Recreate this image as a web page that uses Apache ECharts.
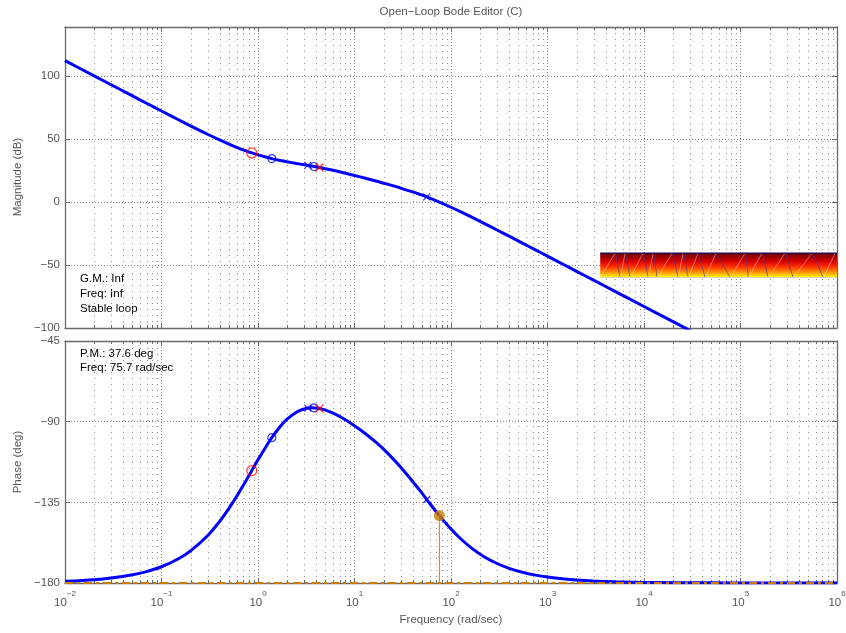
<!DOCTYPE html>
<html>
<head>
<meta charset="utf-8">
<script src="https://cdn.jsdelivr.net/npm/echarts@6/dist/echarts.min.js"></script>
<style>
html, body { margin: 0; padding: 0; background: #ffffff; }
#chart { width: 846px; height: 633px; }
</style>
</head>
<body>
<div id="chart"></div>
<script>
// Open-loop response samples: frequency (rad/sec), magnitude (dB), phase (deg)
const freq = [0.01, 0.02, 0.03, 0.05, 0.07, 0.1, 0.15, 0.2, 0.3, 0.4, 0.5, 0.6, 0.75, 0.862, 1, 1.2, 1.39, 1.7, 2, 2.5,
  3, 3.6, 4.33, 5, 6, 7.5, 10, 13, 17, 22, 30, 40, 48, 56, 75.7, 100, 130, 170, 220, 300, 400,
  550, 750, 1000, 1500, 2000, 3000, 5000, 10000, 20000, 50000, 100000, 1000000];
const magDb = [112.25, 100.21, 93.18, 84.31, 78.49, 72.33, 65.38, 60.51, 53.83, 49.31, 46.00, 43.46, 40.62, 39.01, 37.44, 35.72, 34.50, 33.02, 31.97, 30.64,
  29.61, 28.56, 27.46, 26.5, 25.2, 23.5, 21.1, 18.9, 16.5, 14.2, 11.1, 8.1, 6.0, 4.12, 0.00, -4.12, -8.23, -12.60, -16.90, -22.17, -27.10,
  -32.59, -37.96, -42.95, -49.98, -54.98, -62.02, -70.89, -82.93, -94.97, -110.89, -122.93, -162.93];
const phaseDeg = [-179.09, -178.18, -177.27, -175.45, -173.64, -170.94, -166.46, -162.08, -153.63, -145.70, -138.39, -131.73, -122.96, -117.31, -111.30, -104.23, -98.95, -92.69, -88.63, -84.70,
  -82.90, -82.28, -82.68, -83.57, -85.27, -87.99, -92.25, -96.72, -101.89, -107.52, -115.26, -123.34, -128.6, -133.42, -142.4, -149.87, -156.01, -161.25, -165.31, -169.13, -171.81,
  -174.02, -175.61, -176.71, -177.80, -178.35, -178.90, -179.34, -179.67, -179.84, -179.93, -179.97, -180.00];

// Compensator (red) and plant (blue) zeros / poles
const compZeroFreq = [0.862];
const compZeroMag = [39.01];
const compZeroPhase = [-117.31];
const compPoleFreq = [4.33];
const compPoleMag = [27.46];
const compPolePhase = [-82.68];
const plantZeroFreq = [1.39, 3.81];
const plantZeroMag = [34.50, 28.22];
const plantZeroPhase = [-98.95, -82.30];
const plantPoleFreq = [3.28, 56];
const plantPoleMag = [29.10, 4.12];
const plantPolePhase = [-82.45, -133.42];

// Stability margins
const pmFreq = 75.7;
const pmDeg = 37.6;

// Axis ticks
const freqTicks = [1e-2, 1e-1, 1e0, 1e1, 1e2, 1e3, 1e4, 1e5, 1e6];
const minorSteps = [2, 3, 4, 5, 6, 7, 8, 9];
const magTicks = [-100, -50, 0, 50, 100];
const magTop = 139;
const phaseTicks = [-180, -135, -90, -45];

// Colour band in the magnitude pane and its sawtooth trace
const bandFreq = [3517, 1e6];
const bandDb = [-40.2, -60.3];
const sawFreq = [3517, 5035, 5673, 6393, 7200, 9817, 11070, 12470, 13720, 19630, 22650, 25520, 28760, 36480,
  43150, 56100, 78300, 112100, 120500, 168200, 194100, 291200, 352400, 554600, 721000, 961000];

const FONT = 'Liberation Sans, Arial, Helvetica, sans-serif';
const GRAY = '#555555';
const BOX = '#6a6a6a';
const BLUE = '#0000ff';
const RED = '#ff0000';
const ORANGE = '#cc7a00';

const minorFreqTicks = [];
freqTicks.slice(0, -1).forEach(d => minorSteps.forEach(m => minorFreqTicks.push(m * d)));

const zip = (xs, ys) => xs.map((x, i) => [x, ys[i]]);
const minusSign = v => String(v).replace('-', '\u2212');

function xAxisBase(grid, pos, labels) {
  return {
    type: 'log', logBase: 10, gridIndex: grid, position: pos,
    min: freqTicks[0], max: freqTicks[freqTicks.length - 1], splitNumber: freqTicks.length - 1,
    axisLine: { show: true, onZero: false, lineStyle: { color: BOX, width: 1.3 } },
    axisTick: { show: true, inside: true, length: 5, lineStyle: { color: BOX } },
    minorTick: { show: false },
    splitLine: { show: pos === 'bottom', lineStyle: { color: '#8c8c8c', width: 1, type: [1, 2] } },
    axisLabel: labels ? {
      show: true, margin: 7,
      formatter: v => {
        const e = Math.round(Math.log10(v));
        return '{b|10}{e|' + minusSign(e) + '}';
      },
      rich: {
        b: { fontSize: 11.5, fontFamily: FONT, color: GRAY, verticalAlign: 'bottom', lineHeight: 19 },
        e: { fontSize: 8, fontFamily: FONT, color: GRAY, verticalAlign: 'top', lineHeight: 19 }
      }
    } : { show: false }
  };
}

function yAxisBase(grid, pos, min, max, step, labels) {
  return {
    type: 'value', gridIndex: grid, position: pos, min: min, max: max, interval: step,
    axisLine: { show: true, lineStyle: { color: BOX, width: 1.3 } },
    axisTick: { show: true, inside: true, length: 5, lineStyle: { color: BOX } },
    splitLine: { show: pos === 'left', lineStyle: { color: '#8c8c8c', width: 1, type: [1, 2] } },
    axisLabel: labels ? {
      show: true, margin: 5, fontSize: 11.5, fontFamily: FONT, color: GRAY,
      showMaxLabel: max % step === 0,
      formatter: v => minusSign(v)
    } : { show: false }
  };
}

// Dotted minor grid lines with inside ticks at 2..9 of each decade
function minorGrid(xi, yi, yMin, yMax) {
  return {
    type: 'custom', xAxisIndex: xi, yAxisIndex: yi, silent: true, z: 1, clip: false,
    data: minorFreqTicks.map(f => [f, yMin]),
    encode: { x: 0, y: 1 },
    renderItem: (params, api) => {
      const f = api.value(0);
      const a = api.coord([f, yMin]);
      const b = api.coord([f, yMax]);
      const x = Math.round(a[0]) + 0.5;
      return {
        type: 'group', children: [
          { type: 'line', shape: { x1: x, y1: a[1], x2: x, y2: b[1] }, style: { stroke: '#8f8f8f', lineWidth: 1, lineDash: [1, 5] } },
          { type: 'line', shape: { x1: x, y1: a[1], x2: x, y2: a[1] - 3 }, style: { stroke: BOX, lineWidth: 1 } },
          { type: 'line', shape: { x1: x, y1: b[1], x2: x, y2: b[1] + 3 }, style: { stroke: BOX, lineWidth: 1 } }
        ]
      };
    }
  };
}

function markerSeries(name, xi, yi, pts, symbol, color, size) {
  return {
    name: name, type: 'scatter', xAxisIndex: xi, yAxisIndex: yi, z: 6, silent: true,
    data: pts, symbol: symbol, symbolSize: size,
    itemStyle: { color: 'none', borderColor: color, borderWidth: 1.2 }
  };
}

const CROSS = 'path://M0,0L10,10M10,0L0,10';

const chart = echarts.init(document.getElementById('chart'), null, { renderer: 'canvas' });

const option = {
  animation: false,
  backgroundColor: '#ffffff',
  grid: [
    { left: 65, right: 9, top: 27, height: 301, outerBoundsMode: 'none', containLabel: false },
    { left: 65, right: 9, top: 341, height: 242, outerBoundsMode: 'none', containLabel: false }
  ],
  xAxis: [
    xAxisBase(0, 'bottom', false),
    xAxisBase(0, 'top', false),
    xAxisBase(1, 'bottom', true),
    xAxisBase(1, 'top', false)
  ],
  yAxis: [
    yAxisBase(0, 'left', magTicks[0], magTop, magTicks[1] - magTicks[0], true),
    yAxisBase(0, 'right', magTicks[0], magTop, magTicks[1] - magTicks[0], false),
    yAxisBase(1, 'left', phaseTicks[0], phaseTicks[phaseTicks.length - 1], phaseTicks[1] - phaseTicks[0], true),
    yAxisBase(1, 'right', phaseTicks[0], phaseTicks[phaseTicks.length - 1], phaseTicks[1] - phaseTicks[0], false)
  ],
  series: [
    minorGrid(0, 0, magTicks[0], magTop),
    minorGrid(2, 2, phaseTicks[0], phaseTicks[phaseTicks.length - 1]),
    {
      // colour band with sawtooth trace
      type: 'custom', xAxisIndex: 0, yAxisIndex: 0, silent: true, z: 3,
      data: [[bandFreq[0], bandDb[0]]],
      encode: { x: 0, y: 1 },
      renderItem: (params, api) => {
        const p0 = api.coord([bandFreq[0], bandDb[0]]);
        const p1 = api.coord([bandFreq[1], bandDb[1]]);
        const children = [{
          type: 'rect',
          shape: { x: p0[0], y: p0[1], width: p1[0] - p0[0], height: p1[1] - p0[1] },
          style: {
            fill: new echarts.graphic.LinearGradient(0, 0, 0, 1, [
              { offset: 0, color: '#2a0048' },
              { offset: 0.07, color: '#7a0000' },
              { offset: 0.35, color: '#d80000' },
              { offset: 0.55, color: '#ff3000' },
              { offset: 0.78, color: '#ff9500' },
              { offset: 0.93, color: '#ffe800' },
              { offset: 1, color: '#ffff50' }
            ])
          }
        }];
        for (let i = 0; i < sawFreq.length - 1; i++) {
          const ya = i % 2 === 0 ? bandDb[1] : bandDb[0];
          const yb = i % 2 === 0 ? bandDb[0] : bandDb[1];
          const a = api.coord([sawFreq[i], ya]);
          const b = api.coord([sawFreq[i + 1], yb]);
          const rising = i % 2 === 0;
          children.push({
            type: 'line', shape: { x1: a[0], y1: a[1], x2: b[0], y2: b[1] },
            style: { stroke: rising ? 'rgba(255,210,200,0.5)' : 'rgba(70,60,150,0.65)', lineWidth: 1 }
          });
        }
        children.push({ type: 'line', shape: { x1: p0[0], y1: p0[1] + 0.5, x2: p1[0], y2: p0[1] + 0.5 }, style: { stroke: '#1a1060', lineWidth: 1 } });
        children.push({ type: 'line', shape: { x1: p0[0], y1: p1[1] - 0.5, x2: p1[0], y2: p1[1] - 0.5 }, style: { stroke: '#d8d8b0', lineWidth: 1 } });
        return { type: 'group', children: children };
      }
    },
    {
      name: 'Magnitude', type: 'line', xAxisIndex: 0, yAxisIndex: 0, z: 4,
      data: zip(freq, magDb), showSymbol: false, smooth: 0.3, clip: true,
      lineStyle: { color: BLUE, width: 3 }
    },
    {
      name: 'Phase', type: 'line', xAxisIndex: 2, yAxisIndex: 2, z: 4,
      data: zip(freq, phaseDeg), showSymbol: false, smooth: 0.3, clip: true,
      lineStyle: { color: BLUE, width: 3 }
    },
    {
      // -180 deg reference
      type: 'line', xAxisIndex: 2, yAxisIndex: 2, z: 5, silent: true,
      data: [[freqTicks[0], phaseTicks[0]], [freqTicks[freqTicks.length - 1], phaseTicks[0]]],
      showSymbol: false,
      lineStyle: { color: ORANGE, width: 1.8, type: [8, 4, 3, 4] }
    },
    {
      // phase margin drop line
      type: 'line', xAxisIndex: 2, yAxisIndex: 2, z: 5, silent: true,
      data: [[pmFreq, -180 + pmDeg], [pmFreq, phaseTicks[0]]],
      showSymbol: false,
      lineStyle: { color: ORANGE, width: 1 }
    },
    {
      type: 'scatter', xAxisIndex: 2, yAxisIndex: 2, z: 7, silent: true,
      data: [[pmFreq, -180 + pmDeg]], symbol: 'circle', symbolSize: 11,
      itemStyle: { color: ORANGE }
    },
    markerSeries('comp zero', 0, 0, zip(compZeroFreq, compZeroMag), 'circle', RED, 10),
    markerSeries('plant zero', 0, 0, zip(plantZeroFreq, plantZeroMag), 'circle', BLUE, 8),
    markerSeries('plant pole', 0, 0, zip(plantPoleFreq, plantPoleMag), CROSS, BLUE, 7),
    markerSeries('comp pole', 0, 0, zip(compPoleFreq, compPoleMag), CROSS, RED, 8),
    markerSeries('comp zero', 2, 2, zip(compZeroFreq, compZeroPhase), 'circle', RED, 10),
    markerSeries('plant zero', 2, 2, zip(plantZeroFreq, plantZeroPhase), 'circle', BLUE, 8),
    markerSeries('plant pole', 2, 2, zip(plantPoleFreq, plantPolePhase), CROSS, BLUE, 7),
    markerSeries('comp pole', 2, 2, zip(compPoleFreq, compPolePhase), CROSS, RED, 8)
  ],
  graphic: [
    { type: 'text', x: 451, y: 12, style: { text: 'Open\u2212Loop Bode Editor (C)', fill: GRAY, font: '11.5px ' + FONT, textAlign: 'center', textVerticalAlign: 'middle' } },
    { type: 'text', x: 18, y: 177, rotation: Math.PI / 2, style: { text: 'Magnitude (dB)', fill: GRAY, font: '11.5px ' + FONT, textAlign: 'center', textVerticalAlign: 'middle' } },
    { type: 'text', x: 18, y: 462, rotation: Math.PI / 2, style: { text: 'Phase (deg)', fill: GRAY, font: '11.5px ' + FONT, textAlign: 'center', textVerticalAlign: 'middle' } },
    { type: 'text', x: 451, y: 620, style: { text: 'Frequency (rad/sec)', fill: GRAY, font: '11.5px ' + FONT, textAlign: 'center', textVerticalAlign: 'middle' } },
    { type: 'text', x: 80, y: 279, style: { text: 'G.M.: Inf', fill: '#000', font: '11.5px ' + FONT, textVerticalAlign: 'middle' } },
    { type: 'text', x: 80, y: 294, style: { text: 'Freq: Inf', fill: '#000', font: '11.5px ' + FONT, textVerticalAlign: 'middle' } },
    { type: 'text', x: 80, y: 308.5, style: { text: 'Stable loop', fill: '#000', font: '11.5px ' + FONT, textVerticalAlign: 'middle' } },
    { type: 'text', x: 80, y: 353.5, style: { text: 'P.M.: ' + pmDeg + ' deg', fill: '#000', font: '11.5px ' + FONT, textVerticalAlign: 'middle' } },
    { type: 'text', x: 80, y: 368, style: { text: 'Freq: ' + pmFreq + ' rad/sec', fill: '#000', font: '11.5px ' + FONT, textVerticalAlign: 'middle' } }
  ]
};

chart.setOption(option);
</script>
</body>
</html>
